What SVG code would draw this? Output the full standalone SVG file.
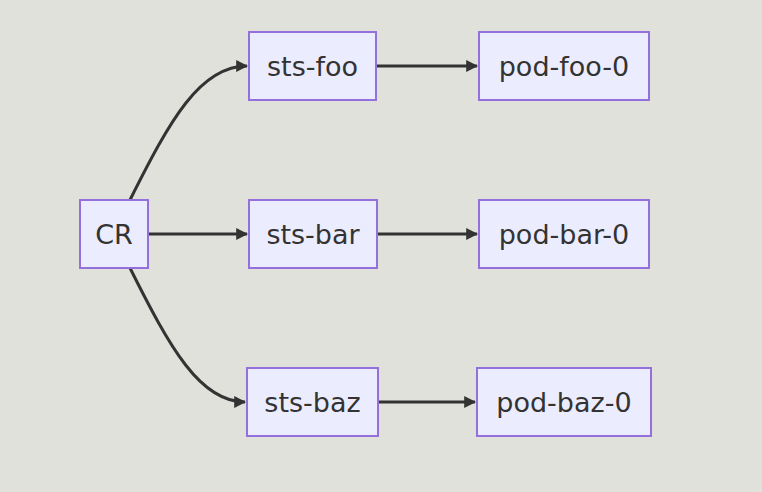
<svg xmlns="http://www.w3.org/2000/svg" width="762" height="492" viewBox="0 0 762 492">
<style>
.n rect{fill:#ececff;stroke:#9370db;stroke-width:2}
.n text{font-family:"DejaVu Sans",sans-serif;font-size:27px;fill:#333;text-anchor:middle;dominant-baseline:central}
.e path{fill:none;stroke:#333;stroke-width:3}
</style>
<defs><marker id="a" viewBox="0 0 10 10" refX="9" refY="5" markerWidth="4" markerHeight="4" orient="auto"><path d="M0,0L10,5L0,10z" fill="#333"/></marker></defs>
<rect width="762" height="492" fill="#e0e1da"/>
<g class="e">
<path d="M130,200 C170,120 200,66 247,66" marker-end="url(#a)"/>
<path d="M148,234 L247,234" marker-end="url(#a)"/>
<path d="M130,268 C170,348 200,402 245,402" marker-end="url(#a)"/>
<path d="M376,66 L477,66" marker-end="url(#a)"/>
<path d="M377,234 L477,234" marker-end="url(#a)"/>
<path d="M378,402 L475,402" marker-end="url(#a)"/>
</g>
<g id="cr" class="n"><rect x="80" y="200" width="68" height="68"/><text x="114" y="234">CR</text></g>
<g id="stsfoo" class="n"><rect x="249" y="32" width="127" height="68"/><text x="312.5" y="66">sts-foo</text></g>
<g id="stsbar" class="n"><rect x="249" y="200" width="128" height="68"/><text x="313" y="234">sts-bar</text></g>
<g id="stsbaz" class="n"><rect x="247" y="368" width="131" height="68"/><text x="312.5" y="402">sts-baz</text></g>
<g id="podfoo" class="n"><rect x="479" y="32" width="170" height="68"/><text x="564" y="66">pod-foo-0</text></g>
<g id="podbar" class="n"><rect x="479" y="200" width="170" height="68"/><text x="564" y="234">pod-bar-0</text></g>
<g id="podbaz" class="n"><rect x="477" y="368" width="174" height="68"/><text x="564" y="402">pod-baz-0</text></g>
</svg>
